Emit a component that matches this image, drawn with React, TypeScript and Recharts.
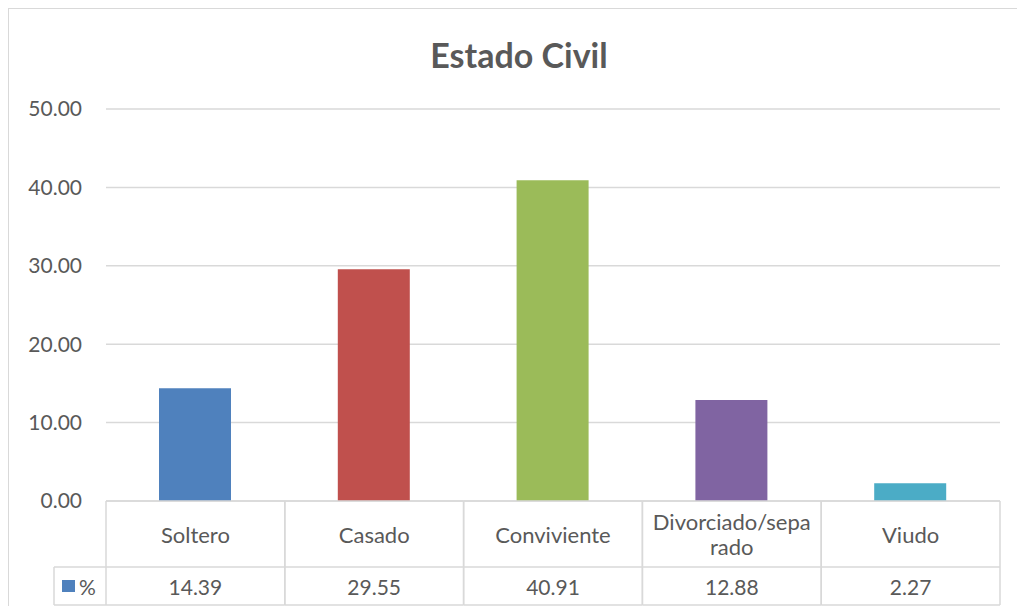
import React from 'react';
import { BarChart, Bar, XAxis, YAxis, CartesianGrid, Cell } from 'recharts';

const categories = ['Soltero', 'Casado', 'Conviviente', 'Divorciado/separado', 'Viudo'];
const percentValues = [14.39, 29.55, 40.91, 12.88, 2.27];
const barColors = ['#4F81BD', '#C0504D', '#9BBB59', '#8064A2', '#4BACC6'];
const yTicks = [0, 10, 20, 30, 40, 50];
const seriesName = '%';
const title = 'Estado Civil';

const data = categories.map((c, i) => ({ name: c, value: percentValues[i] }));

const W = 1008;
const H = 597;
const M = { top: 100, right: 17, bottom: 1, left: 0 };
const Y_W = 97;
const X_H = 104;
const PLOT_W = W - M.left - M.right - Y_W;
const BAND = PLOT_W / categories.length;
const HEADER_H = 66;
const FONT = 'Lato, Carlito, Calibri, sans-serif';
const TEXT = '#595959';
const LINE = '#d9d9d9';

const TableTick = (props: any) => {
  const { x, y, payload, index } = props;
  const left = x - BAND / 2;
  const right = x + BAND / 2;
  const name: string = payload.value;
  const lines = name.length > 15 ? [name.slice(0, 15), name.slice(15)] : [name];
  const idx = categories.indexOf(name);
  const val = percentValues[idx];
  const headerMid = y + HEADER_H / 2;
  const valueMid = y + HEADER_H + (X_H - HEADER_H) / 2;
  return (
    <g>
      {index === 0 && (
        <g>
          <line x1={left - 52} y1={y + HEADER_H} x2={left} y2={y + HEADER_H} stroke={LINE} strokeWidth={1.5} />
          <line x1={left - 52} y1={y + X_H} x2={left} y2={y + X_H} stroke={LINE} strokeWidth={1.5} />
          <line x1={left - 52} y1={y + HEADER_H} x2={left - 52} y2={y + X_H} stroke={LINE} strokeWidth={1.5} />
          <rect x={left - 44} y={valueMid - 6} width={13} height={12} fill={barColors[0]} />
          <text x={left - 27} y={valueMid} dominantBaseline="central" fontSize={21} fill={TEXT} fontFamily={FONT}>{seriesName}</text>
        </g>
      )}
      <line x1={left} y1={y} x2={left} y2={y + X_H} stroke={LINE} strokeWidth={1.5} />
      <line x1={right} y1={y} x2={right} y2={y + X_H} stroke={LINE} strokeWidth={1.5} />
      <line x1={left} y1={y} x2={right} y2={y} stroke={LINE} strokeWidth={1.5} />
      <line x1={left} y1={y + HEADER_H} x2={right} y2={y + HEADER_H} stroke={LINE} strokeWidth={1.5} />
      <line x1={left} y1={y + X_H} x2={right} y2={y + X_H} stroke={LINE} strokeWidth={1.5} />
      {lines.map((ln, i) => (
        <text
          key={i}
          x={x}
          y={headerMid + (i - (lines.length - 1) / 2) * 25}
          textAnchor="middle"
          dominantBaseline="central"
          fontSize={22}
          fill={TEXT}
          fontFamily={FONT}
        >
          {ln}
        </text>
      ))}
      <text x={x} y={valueMid} textAnchor="middle" dominantBaseline="central" fontSize={21} fill={TEXT} fontFamily={FONT}>
        {val.toFixed(2)}
      </text>
    </g>
  );
};

export default function App() {
  return (
    <div
      style={{
        position: 'absolute',
        left: 8,
        top: 8,
        width: W + 1,
        height: H + 1,
        borderTop: `1px solid ${LINE}`,
        borderLeft: `1px solid ${LINE}`,
        boxSizing: 'border-box',
        background: '#fff',
      }}
    >
      <div
        style={{
          position: 'absolute',
          left: 0,
          top: 26,
          width: 1020,
          textAlign: 'center',
          fontFamily: FONT,
          fontWeight: 'bold',
          fontSize: 34,
          color: TEXT,
          lineHeight: '40px',
        }}
      >
        {title}
      </div>
      <BarChart width={W} height={H} data={data} margin={M}>
        <CartesianGrid horizontal vertical={false} stroke={LINE} strokeWidth={1.5} />
        <XAxis
          dataKey="name"
          height={X_H}
          axisLine={false}
          tickLine={false}
          tickSize={0}
          tickMargin={0}
          interval={0}
          tick={<TableTick />}
        />
        <YAxis
          width={Y_W}
          domain={[0, 50]}
          ticks={yTicks}
          axisLine={false}
          tickLine={false}
          tickSize={0}
          tickMargin={24}
          tickFormatter={(v: number) => v.toFixed(2)}
          tick={{ fontSize: 21, fill: TEXT, fontFamily: FONT }}
        />
        <Bar dataKey="value" barSize={72} isAnimationActive={false}>
          {data.map((d, i) => (
            <Cell key={d.name} fill={barColors[i]} />
          ))}
        </Bar>
      </BarChart>
    </div>
  );
}
